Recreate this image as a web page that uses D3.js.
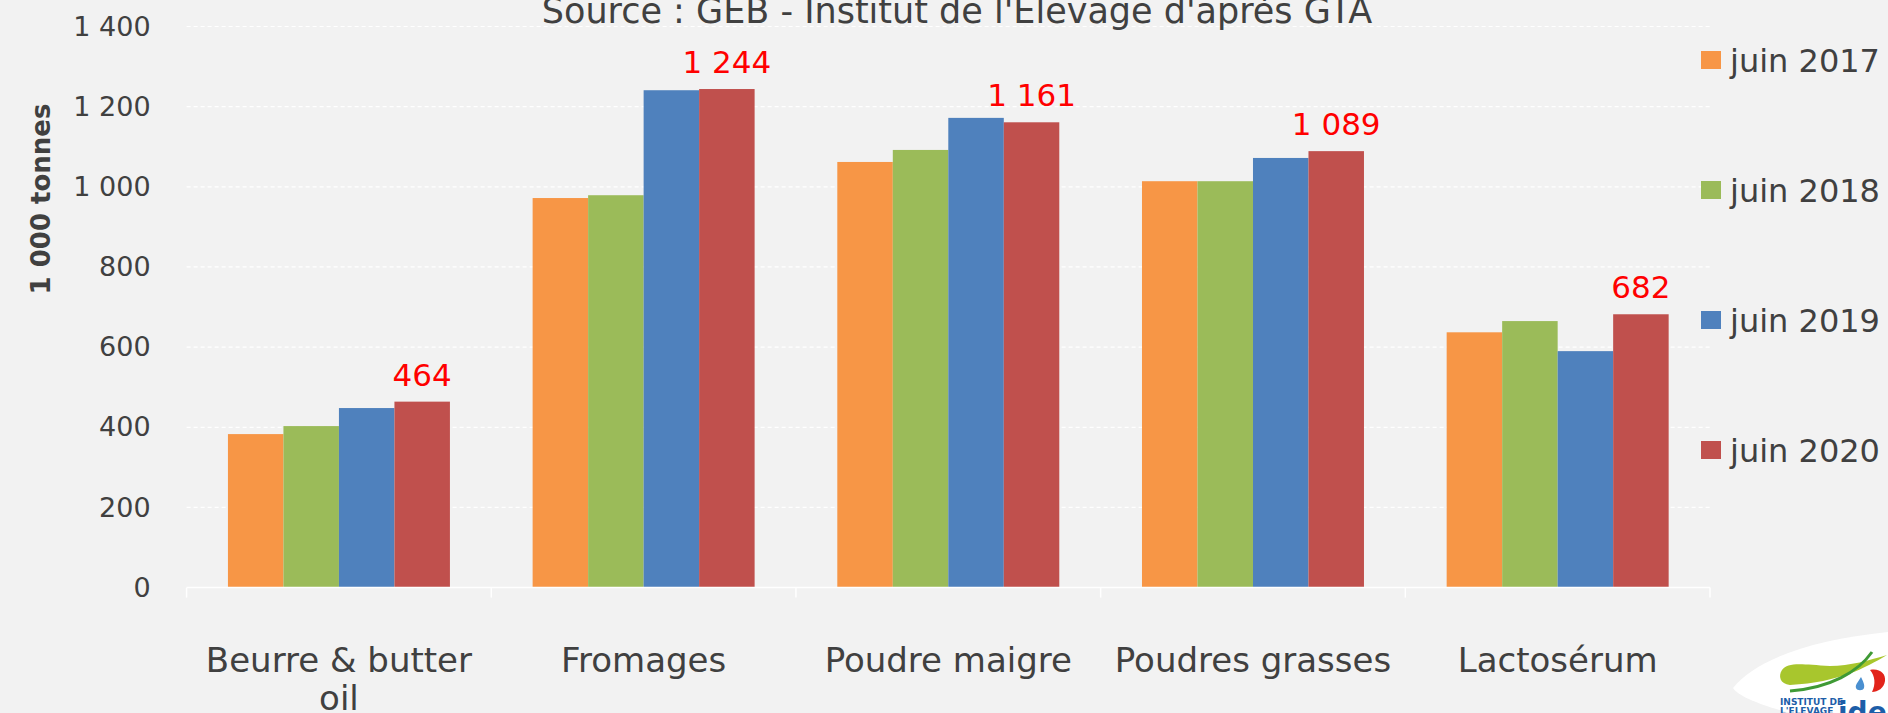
<!DOCTYPE html>
<html>
<head>
<meta charset="utf-8">
<script src="https://cdn.jsdelivr.net/npm/d3@7"></script>
<style>
  html, body { margin: 0; padding: 0; background: #f2f2f2; overflow: hidden; }
  svg { display: block; }
  text { font-family: "DejaVu Sans", sans-serif; fill: #404040; }
</style>
</head>
<body>
<svg></svg>
<script>
var categories = ["Beurre & butter oil", "Fromages", "Poudre maigre", "Poudres grasses", "Lactosérum"];
var series = ["juin 2017", "juin 2018", "juin 2019", "juin 2020"];
var colors = ["#f79646", "#9bbb59", "#4f81bd", "#c0504d"];
var juin2017 = [383, 972, 1062, 1014, 637];
var juin2018 = [403, 979, 1092, 1014, 665];
var juin2019 = [448, 1241, 1172, 1072, 590];
var juin2020 = [464, 1244, 1161, 1089, 682];
var yTicks = [0, 200, 400, 600, 800, 1000, 1200, 1400];
var title = "Source : GEB - Institut de l'Elevage d'après GTA";
var yTitle = "1 000 tonnes";

var values = [juin2017, juin2018, juin2019, juin2020];

var width = 1888, height = 713;
var margin = {top: 26.5, right: 178, bottom: 125.4, left: 186.6};

var svg = d3.select("svg")
    .attr("width", width)
    .attr("height", height);

svg.append("rect")
    .attr("width", width)
    .attr("height", height)
    .attr("fill", "#f2f2f2");

var fr = d3.formatLocale({decimal: ",", thousands: " ", grouping: [3], currency: ["", " €"]});
var format = fr.format(",d");

var x0 = d3.scaleBand()
    .domain(categories)
    .range([margin.left, width - margin.right]);

var x1 = d3.scaleBand()
    .domain(series)
    .range([0, x0.bandwidth()])
    .paddingInner(0)
    .paddingOuter(0.745);

var y = d3.scaleLinear()
    .domain([0, 1400])
    .range([height - margin.bottom, margin.top]);

var color = d3.scaleOrdinal().domain(series).range(colors);

// grid
svg.append("g")
  .selectAll("line")
  .data(yTicks.filter(d => d > 0))
  .enter().append("line")
    .attr("x1", margin.left)
    .attr("x2", width - margin.right)
    .attr("y1", d => y(d))
    .attr("y2", d => y(d))
    .attr("stroke", "#ffffff")
    .attr("stroke-width", 1.2)
    .attr("stroke-dasharray", "4,3");

// y axis labels
var yAxis = svg.append("g")
    .attr("transform", "translate(" + margin.left + ",0)")
    .call(d3.axisLeft(y).tickValues(yTicks).tickFormat(format).tickSize(0).tickPadding(36));
yAxis.select(".domain").remove();
yAxis.selectAll("text")
    .style("font-family", "DejaVu Sans, sans-serif")
    .style("font-size", "27px")
    .attr("fill", "#404040");

// bars
var group = svg.append("g")
  .selectAll("g")
  .data(categories)
  .enter().append("g")
    .attr("transform", d => "translate(" + x0(d) + ",0)");

group.selectAll("rect")
  .data((c, i) => series.map((s, j) => ({s: s, v: values[j][i]})))
  .enter().append("rect")
    .attr("x", d => x1(d.s))
    .attr("y", d => y(d.v))
    .attr("width", x1.bandwidth())
    .attr("height", d => y(0) - y(d.v))
    .attr("fill", d => color(d.s));

// value labels for juin 2020
group.append("text")
    .attr("x", x1("juin 2020") + x1.bandwidth() / 2)
    .attr("y", (c, i) => y(juin2020[i]) - 16)
    .attr("text-anchor", "middle")
    .style("font-size", "31px")
    .style("fill", "#ff0000")
    .text((c, i) => format(juin2020[i]));

// x axis line and ticks
var xAxis = svg.append("g");
xAxis.append("line")
    .attr("x1", margin.left)
    .attr("x2", width - margin.right)
    .attr("y1", y(0))
    .attr("y2", y(0))
    .attr("stroke", "#ffffff")
    .attr("stroke-width", 1.5);
xAxis.selectAll(".tick")
  .data(categories.map(c => x0(c)).concat([width - margin.right]))
  .enter().append("line")
    .attr("x1", d => d)
    .attr("x2", d => d)
    .attr("y1", y(0))
    .attr("y2", y(0) + 10)
    .attr("stroke", "#ffffff")
    .attr("stroke-width", 1.5);

// category labels
var catLabel = svg.append("g")
  .selectAll("text")
  .data(categories)
  .enter().append("text")
    .attr("x", d => x0(d) + x0.bandwidth() / 2)
    .attr("y", y(0) + 84)
    .attr("text-anchor", "middle")
    .style("font-size", "34px")
    .text(d => d);

catLabel.each(function(d) {
  var text = d3.select(this),
      words = d.split(/\s+/),
      line = [],
      lineNumber = 0,
      xx = text.attr("x"),
      yy = text.attr("y"),
      tspan = text.text(null).append("tspan").attr("x", xx).attr("y", yy);
  words.forEach(function(w) {
    line.push(w);
    tspan.text(line.join(" "));
    if (tspan.node().getComputedTextLength() > x0.bandwidth() - 4 && line.length > 1) {
      line.pop();
      tspan.text(line.join(" "));
      line = [w];
      lineNumber++;
      tspan = text.append("tspan").attr("x", xx).attr("y", +yy + lineNumber * 38.5).text(w);
    }
  });
});

// title (clipped at top)
svg.append("text")
    .attr("x", 957)
    .attr("y", 23)
    .attr("text-anchor", "middle")
    .style("font-size", "35px")
    .text(title);

// y title
svg.append("text")
    .attr("transform", "translate(50,199) rotate(-90)")
    .attr("text-anchor", "middle")
    .style("font-size", "26px")
    .style("font-weight", "bold")
    .text(yTitle);

// legend
var ly = d3.scalePoint().domain(series).range([60, 450]);
var legend = svg.append("g")
  .selectAll("g")
  .data(series)
  .enter().append("g")
    .attr("transform", d => "translate(1701," + ly(d) + ")");
legend.append("rect")
    .attr("y", -9)
    .attr("width", 20)
    .attr("height", 18)
    .attr("fill", d => color(d));
legend.append("text")
    .attr("x", 29)
    .attr("dy", "0.36em")
    .style("font-size", "32px")
    .text(d => d);

// idele logo (rough)
var logo = svg.append("g");
logo.append("path")
    .attr("d", "M1733,688 C1755,660 1810,640 1888,632 L1888,713 L1790,713 C1760,705 1738,696 1733,688 Z")
    .attr("fill", "#ffffff");
logo.append("path")
    .attr("d", "M1782,670 C1788,662 1800,664 1830,666 C1850,666 1870,660 1887,655 C1865,668 1840,682 1790,685 C1780,684 1778,676 1782,670 Z")
    .attr("fill", "#a8c62d");
logo.append("path")
    .attr("d", "M1790,691 C1830,688 1858,672 1872,652")
    .attr("fill", "none")
    .attr("stroke", "#3f9a35")
    .attr("stroke-width", 3);
logo.append("path")
    .attr("d", "M1870,670 C1880,668 1886,674 1885,681 C1884,688 1878,692 1872,692 C1876,684 1875,676 1870,670 Z")
    .attr("fill", "#e2231a");
logo.append("path")
    .attr("d", "M1861,677 C1858,682 1855,685 1856,688 C1857,691 1863,691 1864,688 C1865,685 1863,681 1861,677 Z")
    .attr("fill", "#4a8fd0");
logo.append("text")
    .attr("x", 1780)
    .attr("y", 705)
    .style("font-size", "9px")
    .style("font-weight", "bold")
    .style("fill", "#1d5ea8")
    .text("INSTITUT DE");
logo.append("text")
    .attr("x", 1780)
    .attr("y", 714)
    .style("font-size", "9px")
    .style("font-weight", "bold")
    .style("fill", "#1d5ea8")
    .text("L'ELEVAGE");
logo.append("text")
    .attr("x", 1838)
    .attr("y", 722)
    .style("font-size", "28px")
    .style("font-weight", "bold")
    .style("fill", "#1d5ea8")
    .text("idele");
</script>
</body>
</html>
